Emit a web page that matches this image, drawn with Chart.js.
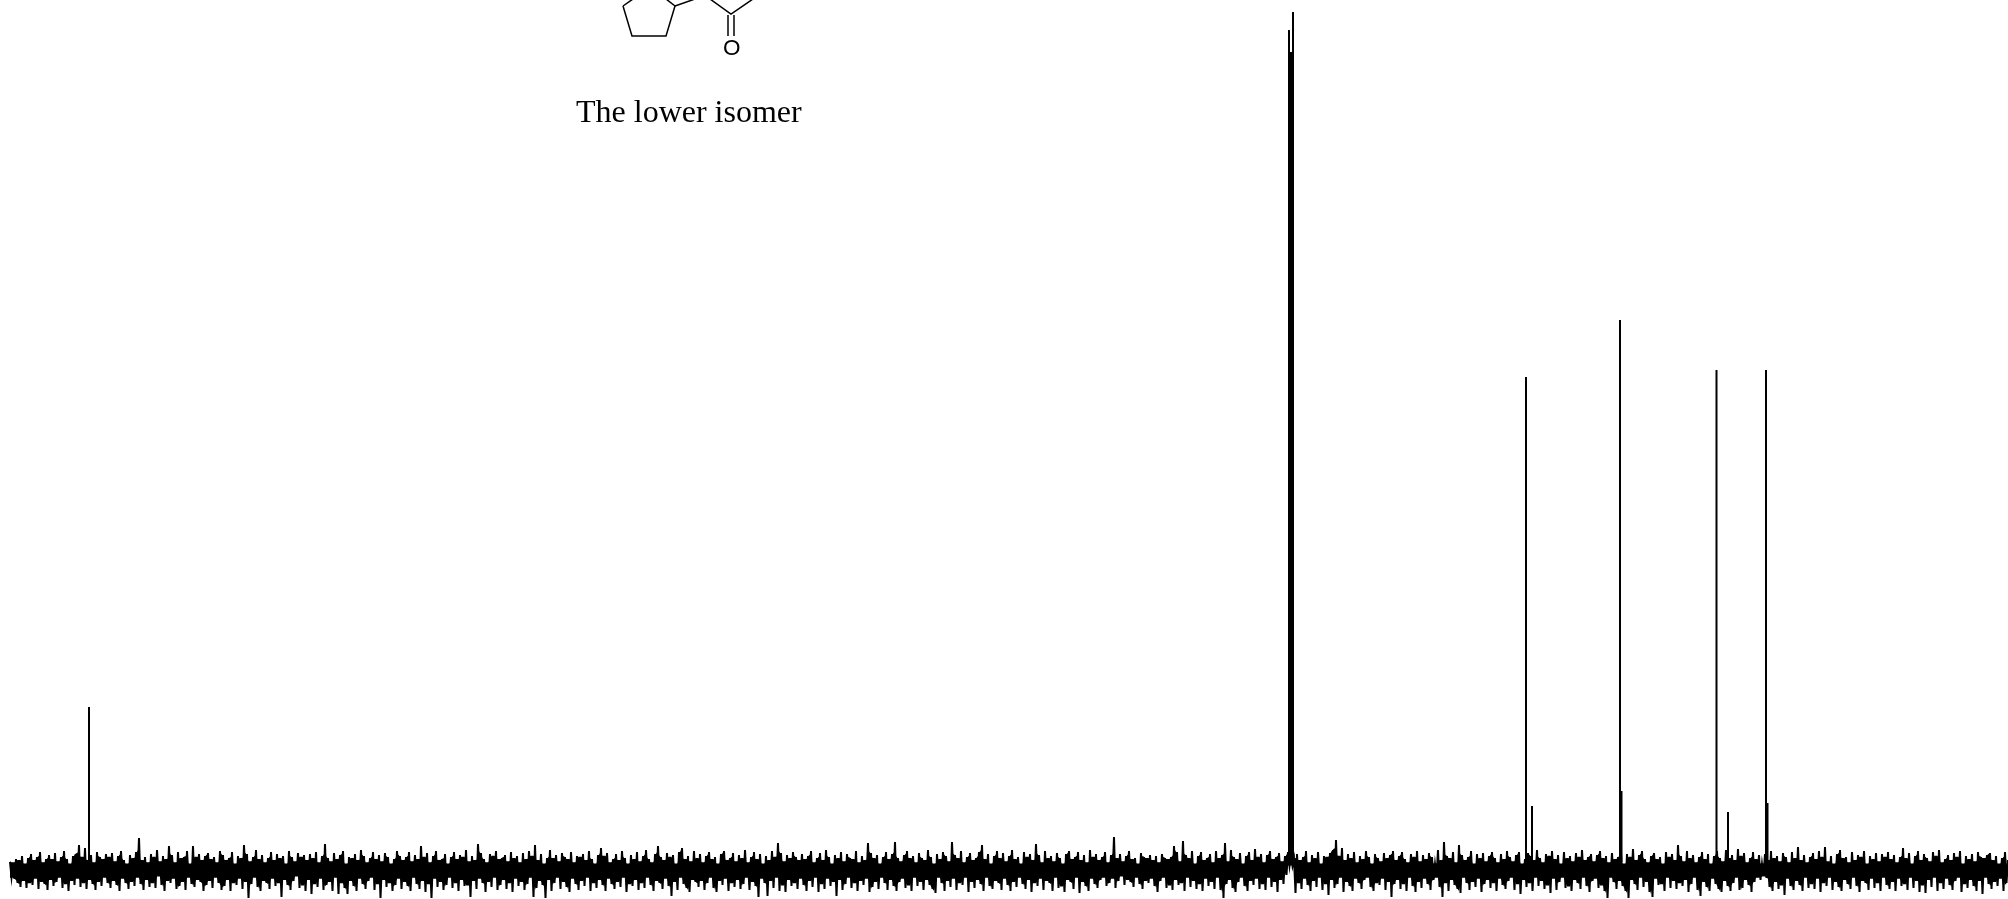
<!DOCTYPE html>
<html>
<head>
<meta charset="utf-8">
<title>The lower isomer</title>
<script src="https://cdn.jsdelivr.net/npm/chart.js@4/dist/chart.umd.min.js"></script>
<style>
    html, body { margin: 0; padding: 0; background: #fff; overflow: hidden; }
    #wrap { position: relative; width: 2008px; height: 899px; }
    #spectrum { display: block; }
    .label { position: absolute; color: #000; white-space: nowrap; line-height: 1; }
    #caption { left: 576px; top: 95px; font: 32px/1 "Liberation Serif", serif; }
    #oxygen { left: 723px; top: 37px; font: 22.5px/1 "Liberation Sans", sans-serif; }
</style>
</head>
<body>
<div id="wrap">
    <canvas id="spectrum" width="2008" height="899"></canvas>
    <div id="caption" class="label">The lower isomer</div>
    <div id="oxygen" class="label">O</div>
</div>
<script>
// Peak positions and heights
const peakPositions = [89, 1289, 1291, 1293, 1526, 1532, 1620, 1621.5, 1716.5, 1728, 1766, 1767.5];
const peakHeights = [163, 840, 818, 858, 493, 64, 550, 79, 500, 58, 500, 67];

// Noise envelope, one value every 3 px across the trace
const noiseHigh = [
    8,7,11,9,14,6,12,16,9,13,18,7,11,15,10,17,8,13,19,11,6,14,16,25,12,22,9,15,7,18,13,10,16,
    12,17,8,14,19,10,6,15,11,18,32,9,13,7,16,12,20,8,14,10,24,15,7,18,11,13,19,6,24,12,16,9,14,
    17,10,13,7,19,15,9,12,18,6,14,11,25,16,8,13,20,10,15,7,12,18,9,16,11,14,6,19,13,8,17,12,15,
    9,16,11,18,7,14,26,12,8,17,10,15,19,6,13,11,16,9,20,14,7,12,18,10,15,8,17,13,6,11,19,14,9,
    13,18,8,15,10,24,12,17,7,14,19,9,11,16,6,13,18,10,15,12,20,8,14,9,26,17,11,7,16,13,19,10,12,
    15,8,18,11,14,7,17,10,19,13,25,9,16,6,12,20,11,15,8,17,13,10,18,7,14,12,16,9,19,11,6,15,22,
    13,17,7,11,16,9,19,12,6,15,10,18,8,14,20,11,7,16,24,13,9,17,12,15,6,18,22,10,14,8,19,11,16,
    7,14,18,10,13,6,16,19,9,12,17,8,15,11,20,7,13,18,10,16,6,14,9,19,12,27,17,8,15,11,18,13,9,
    16,10,14,19,7,12,17,9,20,13,6,15,11,18,8,16,12,10,19,7,14,9,27,17,11,15,6,13,18,10,16,28,12,
    8,15,19,11,14,7,17,12,9,20,13,6,16,10,18,14,8,28,15,11,19,7,13,17,9,12,18,25,10,16,6,14,19,
    11,17,8,14,20,10,13,6,18,12,16,9,26,15,7,19,11,14,8,17,12,6,16,19,10,13,18,9,15,7,20,12,16,
    9,13,18,7,15,33,11,16,8,14,19,10,12,6,17,13,11,15,9,14,7,16,12,10,13,24,18,8,29,15,11,19,6,
    14,18,9,12,16,7,19,11,15,27,8,20,13,10,17,6,14,18,9,21,12,16,7,15,19,10,13,17,8,14,18,15,11,
    16,9,13,19,7,15,11,18,6,14,12,17,20,30,13,22,9,16,11,18,7,14,10,19,13,6,16,12,8,17,11,15,19,
    9,14,18,11,7,16,12,19,8,15,10,17,13,6,20,9,28,14,11,18,7,25,15,9,13,19,6,16,11,17,8,14,18,
    12,7,16,10,19,13,8,15,18,6,11,17,14,9,20,12,7,16,13,19,10,15,6,18,11,14,8,17,12,20,9,13,16,
    8,15,19,11,14,7,17,10,13,18,6,16,12,21,9,15,19,11,7,14,17,10,13,6,18,12,16,9,25,14,8,19,11,
    15,7,13,18,10,16,6,14,19,12,8,20,11,15,9,21,13,17,7,12,18,10,15,6,16,9,19,11,14,8,17,13,7,
    18,11,23,9,15,7,13,17,10,19,12,23,8,14,6,16,20,11,13,7,18,9,15,12,19,6,14,10,17,8,16,12,18,
    10,15,7,13,22,11,17,6,14,19,9,16,12,8,18,13,20,7,11,15,9,17,12,19,6,14,10,16,8,18,13,11,15,
    17,9,14,6,12,18,10
];
const noiseLow = [
    -7,-9,-13,-17,-10,-18,-12,-15,-8,-19,-11,-14,-20,-9,-16,-12,-7,-18,-13,-21,-10,-15,-8,-17,-12,-19,-9,-14,-20,-11,-16,-7,-13,
    -18,-10,-15,-21,-8,-13,-19,-11,-16,-7,-14,-20,-9,-17,-12,-18,-6,-15,-21,-10,-13,-8,-19,-16,-11,-20,-7,-14,-17,-9,-12,-21,-15,
    -10,-18,-7,-13,-20,-16,-9,-21,-12,-15,-8,-19,-11,-28,-14,-7,-17,-21,-10,-13,-19,-8,-16,-12,-27,-9,-15,-20,-11,-6,-18,-14,-21,
    -9,-24,-13,-17,-8,-20,-15,-11,-21,-7,-24,-12,-18,-24,-10,-16,-21,-8,-14,-19,-11,-7,-20,-13,-28,-9,-17,-12,-21,-15,-8,-19,-11,
    -16,-21,-7,-14,-19,-10,-22,-13,-28,-8,-17,-11,-20,-15,-7,-18,-12,-21,-9,-16,-14,-27,-10,-19,-8,-13,-22,-11,-17,-7,-20,-15,-9,
    -19,-12,-22,-8,-16,-11,-20,-14,-7,-27,-18,-10,-15,-28,-9,-21,-13,-7,-19,-11,-17,-22,-8,-14,-20,-10,-16,-7,-21,-12,-18,-9,-15,
    -21,-8,-14,-19,-11,-17,-7,-22,-13,-16,-9,-20,-12,-18,-7,-15,-21,-10,-13,-19,-8,-16,-26,-11,-20,-7,-14,-18,-22,-9,-12,-17,-10,
    -20,-13,-7,-18,-22,-10,-15,-8,-21,-12,-17,-9,-19,-14,-7,-20,-11,-16,-27,-8,-13,-26,-10,-18,-7,-21,-14,-22,-9,-16,-12,-19,-8,
    -15,-21,-10,-17,-7,-22,-13,-19,-8,-16,-11,-26,-9,-20,-14,-7,-18,-12,-21,-10,-15,-8,-22,-17,-11,-19,-7,-13,-20,-9,-16,-21,-12,
    -8,-18,-14,-21,-7,-16,-11,-20,-9,-15,-19,-23,-7,-13,-21,-10,-17,-8,-20,-12,-15,-7,-22,-11,-18,-9,-14,-21,-7,-16,-19,-10,-13,
    -20,-8,-15,-21,-11,-17,-7,-14,-19,-9,-22,-12,-16,-8,-20,-10,-13,-21,-7,-18,-15,-22,-9,-12,-19,-7,-23,-11,-16,-21,-8,-14,-18,
    -10,-7,-16,-13,-8,-18,-11,-6,-15,-9,-12,-17,-7,-14,-19,-10,-13,-8,-16,-22,-11,-7,-18,-14,-20,-9,-15,-12,-21,-7,-17,-10,-19,
    -13,-21,-8,-16,-11,-19,-7,-20,-28,-14,-9,-18,-22,-12,-7,-16,-21,-10,-15,-8,-19,-13,-20,-7,-17,-11,-22,-9,-14,-5,4,4,-23,
    -12,-19,-8,-15,-21,-10,-17,-7,-20,-13,-25,-9,-18,-14,-7,-22,-11,-16,-21,-8,-13,-19,-10,-7,-17,-21,-12,-15,-8,-20,-11,-27,-14,
    -9,-19,-13,-21,-7,-16,-22,-11,-18,-8,-14,-20,-10,-7,-17,-27,-12,-21,-9,-15,-19,-23,-7,-13,-20,-11,-17,-8,-22,-14,-9,-18,-12,
    -21,-8,-15,-19,-11,-7,-20,-13,-24,-9,-17,-12,-21,-7,-16,-10,-19,-14,-23,-8,-20,-12,-7,-18,-15,-21,-9,-13,-19,-7,-16,-22,-11,
    -8,-18,-14,-21,-28,-7,-12,-19,-10,-16,-21,-28,-9,-14,-20,-7,-17,-11,-22,-27,-8,-15,-13,-21,-7,-18,-10,-19,-12,-16,-9,-22,-14,
    -7,-20,-26,-11,-17,-21,-8,-14,-19,-22,-10,-16,-21,-13,-7,-20,-18,-9,-15,-22,-12,-7,-10,-6,-8,-17,-21,-11,-19,-14,-25,-8,-16,
    -20,-10,-15,-21,-7,-18,-13,-19,-8,-22,-12,-16,-7,-20,-11,-17,-21,-9,-14,-19,-7,-16,-22,-10,-13,-20,-8,-18,-12,-21,-7,-15,-19,
    -11,-21,-8,-16,-13,-20,-7,-18,-10,-22,-14,-23,-9,-17,-7,-21,-12,-19,-8,-15,-20,-11,-7,-22,-13,-18,-9,-16,-21,-10,-24,-7,-14,
    -19,-11,-16,-8,-21,-13,-17
];

const noiseStart = 10;
const noiseStep = 3;
const coreShare = 1.1; // how much of the noise height reads as solid black
const peakFloor = 8; // peaks rise out of the noise band

// Part of the drawn structure that is still on the page
const structureBonds = [
    [[623, 6], [632, 36], [666, 36], [675, 6], [666, -1]],
    [[623, 6], [633, -1]],
    [[675, 6], [695, -1]],
    [[710, -1], [731, 14], [753, -1]],
    [[728, 15], [728, 36]],
    [[734, 15], [734, 36]]
];

// the zigzag trace that gives the needles
function buildNoise() {
    const points = [];
    noiseHigh.forEach(function(value, i) {
        points.push({ x: noiseStart + i * noiseStep, y: value });
        points.push({ x: noiseStart + i * noiseStep + noiseStep / 2, y: noiseLow[i] });
    });
    return points;
}

// solid body of the noise, from the lower of each two neighbouring needles
function buildEdge(values, pick, shift) {
    const points = [{ x: noiseStart, y: values[0] * coreShare }];
    for (let i = 0; i < values.length - 1; i++) {
        points.push({
            x: noiseStart + i * noiseStep + noiseStep / 2 + shift,
            y: pick(values[i], values[i + 1]) * coreShare
        });
    }
    return points;
}

function buildPeaks() {
    const points = [];
    peakPositions.forEach(function(position, i) {
        points.push({ x: position, y: peakFloor });
        points.push({ x: position, y: peakHeights[i] });
        points.push({ x: position, y: null });
    });
    return points;
}

const structurePlugin = {
    id: 'structure',
    afterDraw: function(chart) {
        const ctx = chart.ctx;
        ctx.save();
        ctx.strokeStyle = '#000';
        ctx.lineWidth = 1.5;
        structureBonds.forEach(function(bond) {
            ctx.beginPath();
            bond.forEach(function(p, i) {
                if (i === 0) ctx.moveTo(p[0], p[1]);
                else ctx.lineTo(p[0], p[1]);
            });
            ctx.stroke();
        });
        ctx.restore();
    }
};

new Chart(document.getElementById('spectrum').getContext('2d'), {
    type: 'line',
    data: {
        datasets: [{
            data: buildEdge(noiseHigh, Math.min, 0),
            borderWidth: 0,
            pointRadius: 0,
            tension: 0,
            backgroundColor: '#000',
            fill: '+1'
        }, {
            data: buildEdge(noiseLow, Math.max, noiseStep / 2),
            borderWidth: 0,
            pointRadius: 0,
            tension: 0,
            fill: false
        }, {
            data: buildNoise(),
            borderColor: '#000',
            borderWidth: 2,
            pointRadius: 0,
            tension: 0
        }, {
            data: buildPeaks(),
            borderColor: '#000',
            borderWidth: 2,
            pointRadius: 0,
            tension: 0,
            spanGaps: false
        }]
    },
    options: {
        responsive: false,
        animation: false,
        layout: { padding: 0 },
        scales: {
            x: { type: 'linear', min: 0, max: 2008, display: false },
            y: { type: 'linear', min: -29, max: 870, display: false }
        },
        plugins: {
            legend: { display: false },
            tooltip: { enabled: false }
        }
    },
    plugins: [structurePlugin]
});
</script>
</body>
</html>
